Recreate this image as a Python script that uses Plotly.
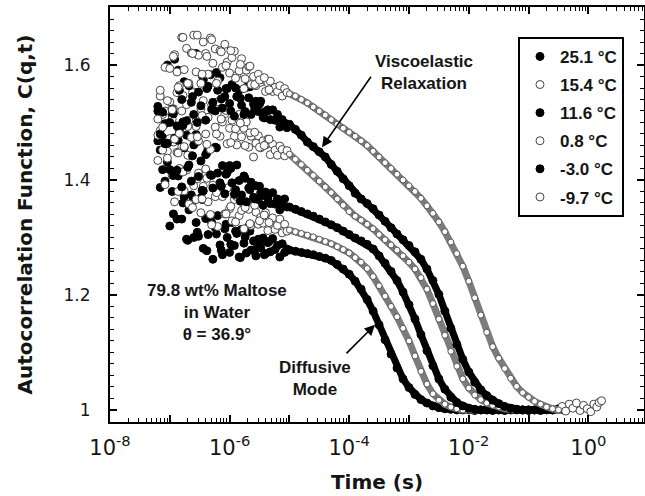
import numpy as np
import plotly.graph_objects as go

# ---------------- data ----------------
LABELS = ["25.1 °C", "15.4 °C", "11.6 °C", "0.8 °C", "-3.0 °C", "-9.7 °C"]

# log10 of lag time (s) for the noisy early-time channels (shared by all runs)
NOISY_LOG_T = [-7.20, -7.16, -7.12, -7.08, -7.04, -7.00, -6.96, -6.92, -6.88, -6.84,
               -6.80, -6.76, -6.72, -6.68, -6.64, -6.60, -6.56, -6.52, -6.48, -6.44,
               -6.40, -6.36, -6.32, -6.28, -6.24, -6.20, -6.16, -6.12, -6.08, -6.04,
               -6.00, -5.96, -5.92, -5.88, -5.84, -5.80, -5.76, -5.72, -5.68, -5.64,
               -5.60, -5.56, -5.52, -5.48, -5.44, -5.40, -5.36, -5.32, -5.28, -5.24,
               -5.20, -5.16, -5.12, -5.08, -5.04,
               -6.94, -6.86, -6.78, -6.70, -6.62, -6.54, -6.46, -6.38, -6.30, -6.22,
               -6.14, -6.06, -5.98, -5.90, -5.82, -5.74, -5.66, -5.58, -5.50, -5.42, -5.34]

NOISY_25_1 = [1.468, 1.387, 1.474, 1.398, 1.431, 1.320, 1.380, 1.410, 1.332, 1.413,
              1.332, 1.371, 1.297, 1.348, 1.374, 1.300, 1.326, 1.302, 1.369, 1.281,
              1.333, 1.305, 1.338, 1.262, 1.317, 1.338, 1.287, 1.270, 1.315, 1.300,
              1.274, 1.326, 1.286, 1.307, 1.266, 1.314, 1.290, 1.273, 1.319, 1.278,
              1.294, 1.268, 1.297, 1.282, 1.299, 1.272, 1.291, 1.275, 1.298, 1.279,
              1.286, 1.266, 1.289, 1.274, 1.280,
              1.341, 1.407, 1.360, 1.295, 1.362, 1.309, 1.366, 1.277, 1.326, 1.306,
              1.278, 1.323, 1.288, 1.311, 1.265, 1.301, 1.311, 1.279, 1.289, 1.270, 1.293]
NOISY_15_4 = [1.434, 1.486, 1.514, 1.392, 1.450, 1.472, 1.408, 1.362, 1.448, 1.420,
              1.458, 1.381, 1.417, 1.358, 1.442, 1.390, 1.366, 1.412, 1.343, 1.389,
              1.419, 1.362, 1.340, 1.391, 1.371, 1.319, 1.387, 1.371, 1.341, 1.386,
              1.350, 1.329, 1.366, 1.371, 1.338, 1.347, 1.315, 1.362, 1.349, 1.321,
              1.365, 1.344, 1.323, 1.335, 1.325, 1.343, 1.312, 1.330, 1.334, 1.314,
              1.321, 1.332, 1.308, 1.323, 1.311,
              1.466, 1.380, 1.414, 1.443, 1.352, 1.402, 1.367, 1.403, 1.322, 1.378,
              1.389, 1.341, 1.354, 1.327, 1.367, 1.352, 1.324, 1.356, 1.329, 1.339, 1.326]
NOISY_11_6 = [1.528, 1.452, 1.418, 1.498, 1.464, 1.418, 1.512, 1.473, 1.417, 1.486,
              1.388, 1.456, 1.478, 1.426, 1.398, 1.461, 1.479, 1.406, 1.433, 1.381,
              1.444, 1.454, 1.409, 1.386, 1.457, 1.412, 1.395, 1.425, 1.376, 1.413,
              1.425, 1.395, 1.375, 1.426, 1.399, 1.374, 1.407, 1.362, 1.386, 1.396,
              1.370, 1.390, 1.366, 1.378, 1.356, 1.379, 1.368, 1.359, 1.378, 1.358,
              1.367, 1.348, 1.361, 1.367, 1.353,
              1.408, 1.469, 1.501, 1.422, 1.442, 1.467, 1.382, 1.447, 1.408, 1.456,
              1.389, 1.410, 1.420, 1.383, 1.363, 1.403, 1.383, 1.367, 1.389, 1.373, 1.360]
NOISY_0_8 = [1.478, 1.546, 1.452, 1.520, 1.438, 1.536, 1.506, 1.471, 1.552, 1.481,
             1.520, 1.458, 1.531, 1.504, 1.474, 1.553, 1.493, 1.468, 1.524, 1.538,
             1.480, 1.509, 1.453, 1.523, 1.492, 1.536, 1.476, 1.501, 1.515, 1.463,
             1.490, 1.504, 1.476, 1.461, 1.514, 1.475, 1.490, 1.501, 1.457, 1.476,
             1.440, 1.464, 1.477, 1.456, 1.468, 1.461, 1.471, 1.444, 1.462, 1.452,
             1.443, 1.459, 1.453, 1.442, 1.451,
             1.524, 1.447, 1.547, 1.493, 1.552, 1.475, 1.512, 1.462, 1.530, 1.480,
             1.506, 1.521, 1.465, 1.489, 1.499, 1.460, 1.482, 1.483, 1.457, 1.460, 1.471]
NOISY_M3_0 = [1.520, 1.480, 1.518, 1.463, 1.600, 1.500, 1.523, 1.610, 1.494, 1.556,
              1.540, 1.571, 1.503, 1.564, 1.535, 1.514, 1.620, 1.553, 1.529, 1.574,
              1.504, 1.563, 1.583, 1.535, 1.520, 1.556, 1.578, 1.525, 1.545, 1.559,
              1.533, 1.566, 1.511, 1.545, 1.556, 1.530, 1.514, 1.561, 1.543, 1.514,
              1.532, 1.537, 1.519, 1.537, 1.509, 1.519, 1.522, 1.505, 1.522, 1.504,
              1.514, 1.492, 1.505, 1.499, 1.491,
              1.515, 1.591, 1.495, 1.568, 1.545, 1.500, 1.582, 1.559, 1.523, 1.587,
              1.541, 1.559, 1.520, 1.560, 1.542, 1.519, 1.562, 1.524, 1.532, 1.508, 1.521]
NOISY_M9_7 = [1.506, 1.556, 1.492, 1.596, 1.538, 1.594, 1.522, 1.618, 1.588, 1.564,
              1.648, 1.592, 1.629, 1.568, 1.621, 1.652, 1.588, 1.617, 1.568, 1.640,
              1.620, 1.584, 1.647, 1.603, 1.628, 1.572, 1.625, 1.596, 1.636, 1.605,
              1.586, 1.613, 1.624, 1.582, 1.590, 1.611, 1.559, 1.591, 1.597, 1.566,
              1.580, 1.564, 1.584, 1.570, 1.575, 1.554, 1.569, 1.572, 1.554, 1.561,
              1.554, 1.564, 1.546, 1.559, 1.552,
              1.615, 1.561, 1.648, 1.568, 1.620, 1.652, 1.584, 1.615, 1.644, 1.568,
              1.623, 1.599, 1.625, 1.577, 1.601, 1.576, 1.598, 1.566, 1.574, 1.578, 1.557]

# log10 of lag time for the well-averaged decay (shared grid)
BAND_LOG_T = [-5.0, -4.9, -4.8, -4.7, -4.6, -4.5, -4.4, -4.3, -4.2, -4.1,
              -4.0, -3.9, -3.8, -3.7, -3.6, -3.5, -3.4, -3.3, -3.2, -3.1,
              -3.0, -2.9, -2.8, -2.7, -2.6, -2.5, -2.4, -2.3, -2.2, -2.1,
              -2.0, -1.9, -1.8, -1.7, -1.6, -1.5, -1.4, -1.3, -1.2, -1.1, -1.0]

BAND_25_1 = [1.278, 1.276, 1.274, 1.272, 1.270, 1.267, 1.264, 1.260, 1.253, 1.245,
             1.236, 1.224, 1.210, 1.192, 1.172, 1.148, 1.122, 1.097, 1.073, 1.054,
             1.039, 1.027, 1.018, 1.012, 1.007, 1.004, 1.002, 1.001, 1.000, 1.000,
             1.000, 0.999, 1.000, 1.000, 1.001, 1.000, 0.999, 1.000, 1.001, 1.000, 1.000]
BAND_15_4 = [1.313, 1.310, 1.307, 1.304, 1.301, 1.297, 1.293, 1.289, 1.284, 1.279,
             1.273, 1.265, 1.257, 1.246, 1.232, 1.216, 1.198, 1.180, 1.162, 1.142,
             1.120, 1.094, 1.067, 1.045, 1.028, 1.017, 1.010, 1.005, 1.002, 1.000,
             1.000, 1.000, 0.999, 1.000, 1.000, 1.001, 1.000, 1.000, 0.999, 1.000, 1.000]
BAND_11_6 = [1.353, 1.349, 1.345, 1.341, 1.337, 1.332, 1.327, 1.322, 1.317, 1.311,
             1.305, 1.299, 1.294, 1.288, 1.280, 1.268, 1.255, 1.241, 1.225, 1.205,
             1.183, 1.158, 1.131, 1.103, 1.077, 1.054, 1.036, 1.022, 1.013, 1.007,
             1.003, 1.001, 1.000, 1.000, 0.999, 1.000, 1.000, 1.001, 1.000, 1.000, 0.999]
BAND_0_8 = [1.445, 1.436, 1.427, 1.417, 1.408, 1.398, 1.388, 1.378, 1.367, 1.356,
            1.345, 1.337, 1.330, 1.323, 1.315, 1.305, 1.296, 1.287, 1.278, 1.268,
            1.257, 1.245, 1.230, 1.210, 1.185, 1.158, 1.130, 1.102, 1.076, 1.054,
            1.038, 1.026, 1.018, 1.012, 1.008, 1.005, 1.002, 1.001, 1.000, 1.000, 1.000]
BAND_M3_0 = [1.497, 1.488, 1.478, 1.466, 1.458, 1.449, 1.440, 1.427, 1.415, 1.402,
             1.390, 1.377, 1.367, 1.359, 1.350, 1.339, 1.328, 1.317, 1.306, 1.296,
             1.286, 1.275, 1.262, 1.245, 1.225, 1.201, 1.172, 1.142, 1.114, 1.088,
             1.066, 1.048, 1.035, 1.025, 1.017, 1.011, 1.006, 1.003, 1.001, 1.000, 1.000]
BAND_M9_7 = [1.550, 1.546, 1.540, 1.534, 1.527, 1.520, 1.513, 1.505, 1.497, 1.490,
             1.483, 1.476, 1.468, 1.460, 1.450, 1.440, 1.430, 1.420, 1.410, 1.400,
             1.390, 1.380, 1.368, 1.355, 1.342, 1.327, 1.310, 1.292, 1.272, 1.250,
             1.224, 1.195, 1.165, 1.135, 1.110, 1.090, 1.072, 1.055, 1.041, 1.030, 1.022]

# longer-time baseline channels, per run
EXTRA_LOG_T_25_1 = []
EXTRA_C_25_1 = []
EXTRA_LOG_T_15_4 = [-0.9, -0.8]
EXTRA_C_15_4 = [1.001, 1.000]
EXTRA_LOG_T_11_6 = [-0.9, -0.8, -0.7, -0.6]
EXTRA_C_11_6 = [1.000, 1.001, 1.000, 1.000]
EXTRA_LOG_T_0_8 = [-0.9, -0.8, -0.7, -0.6, -0.5, -0.4, -0.3]
EXTRA_C_0_8 = [0.999, 1.000, 1.001, 1.000, 1.002, 1.000, 1.003]
EXTRA_LOG_T_M3_0 = [-0.9, -0.8, -0.7, -0.6, -0.5, -0.4]
EXTRA_C_M3_0 = [1.000, 0.999, 1.001, 1.000, 1.002, 1.000]
EXTRA_LOG_T_M9_7 = [-0.9, -0.8, -0.7, -0.6, -0.5]
EXTRA_C_M9_7 = [1.015, 1.010, 1.005, 1.002, 1.000]

# noisy last channels of the slowest run
TAIL_LOG_T_M9_7 = [-0.44, -0.38, -0.32, -0.26, -0.20, -0.14, -0.08, -0.02, 0.04, 0.09, 0.14, 0.18, 0.22]
TAIL_C_M9_7 = [1.006, 0.998, 1.010, 1.003, 1.012, 0.999, 1.008, 1.002, 0.997, 1.010, 1.005, 1.013, 1.016]

RUNS = [
    (LABELS[0], NOISY_25_1, BAND_25_1, EXTRA_LOG_T_25_1, EXTRA_C_25_1, [], [], True),
    (LABELS[1], NOISY_15_4, BAND_15_4, EXTRA_LOG_T_15_4, EXTRA_C_15_4, [], [], False),
    (LABELS[2], NOISY_11_6, BAND_11_6, EXTRA_LOG_T_11_6, EXTRA_C_11_6, [], [], True),
    (LABELS[3], NOISY_0_8, BAND_0_8, EXTRA_LOG_T_0_8, EXTRA_C_0_8, [], [], False),
    (LABELS[4], NOISY_M3_0, BAND_M3_0, EXTRA_LOG_T_M3_0, EXTRA_C_M3_0, [], [], True),
    (LABELS[5], NOISY_M9_7, BAND_M9_7, EXTRA_LOG_T_M9_7, EXTRA_C_M9_7,
     TAIL_LOG_T_M9_7, TAIL_C_M9_7, False),
]

# ---------------- figure ----------------
fig = go.Figure()
for i, (label, noisy, band, ext_t, ext_c, tail_t, tail_c, filled) in enumerate(RUNS):
    if filled:
        mk = dict(symbol="circle", size=8, color="black", line=dict(color="black", width=1))
        band_mk = mk
        band_line = dict(color="black", width=7)
    else:
        mk = dict(symbol="circle", size=8, color="white", line=dict(color="#444444", width=1))
        band_mk = dict(symbol="circle", size=6, color="white", line=dict(color="#555555", width=1))
        band_line = dict(color="#7c7c7c", width=7)
    scat_t = list(NOISY_LOG_T) + list(tail_t)
    scat_c = list(noisy) + list(tail_c)
    fig.add_trace(go.Scatter(
        x=np.power(10.0, scat_t), y=scat_c, mode="markers", marker=mk,
        name="<b>" + label + "</b>", legendgroup="g%d" % i, showlegend=True,
        hoverinfo="skip"))
    bt = list(BAND_LOG_T) + list(ext_t)
    bc = list(band) + list(ext_c)
    fig.add_trace(go.Scatter(
        x=np.power(10.0, bt), y=bc, mode="lines+markers", marker=band_mk, line=band_line,
        name=label, legendgroup="g%d" % i, showlegend=False, hoverinfo="skip"))

TXT = "#151515"
tick_exps = list(range(-8, 1))
tick_text = [("10<sup>%d</sup>" % k) if k % 2 == 0 else "" for k in tick_exps]

fig.update_xaxes(
    type="log", range=[-8, 0.93],
    tickmode="array", tickvals=[10.0 ** k for k in tick_exps], ticktext=tick_text,
    ticks="inside", ticklen=7, tickwidth=1.5, tickcolor="black",
    minor=dict(ticks="inside", ticklen=4, tickwidth=1, tickcolor="black", dtick="D1", showgrid=False),
    showline=True, linewidth=2, linecolor="black", mirror="ticks",
    showgrid=False, zeroline=False,
    tickfont=dict(family="DejaVu Sans", size=21, color=TXT),
    ticklabelstandoff=6,
    title=dict(text="<b>Time (s)</b>", font=dict(family="DejaVu Sans", size=20, color=TXT), standoff=16),
    automargin=False,
)
fig.update_yaxes(
    range=[0.979, 1.7009],
    tickmode="array", tickvals=[1.0, 1.2, 1.4, 1.6], ticktext=["1", "1.2", "1.4", "1.6"],
    ticks="inside", ticklen=7, tickwidth=1.5, tickcolor="black",
    minor=dict(ticks="inside", ticklen=4, tickwidth=1, tickcolor="black", tick0=1.0, dtick=0.02, showgrid=False),
    showline=True, linewidth=2, linecolor="black", mirror="ticks",
    showgrid=False, zeroline=False,
    tickfont=dict(family="DejaVu Sans", size=17, color=TXT),
    ticklabelstandoff=14,
    title=dict(text="<b>Autocorrelation Function, C(q,t)</b>",
               font=dict(family="DejaVu Sans", size=20, color=TXT), standoff=26),
    automargin=False,
)

ann_font = dict(family="Liberation Sans", size=17, color=TXT)
fig.update_layout(
    width=645, height=496,
    margin=dict(l=110, r=1, t=7, b=74),
    plot_bgcolor="white", paper_bgcolor="white",
    legend=dict(x=0.764, y=0.928, xanchor="left", yanchor="top",
                bordercolor="black", borderwidth=2, bgcolor="white",
                font=dict(family="Liberation Sans", size=17, color=TXT),
                traceorder="grouped", tracegroupgap=3, itemwidth=30),
    annotations=[
        dict(text="<b>Viscoelastic<br>Relaxation</b>", xref="paper", yref="paper",
             x=0.588, y=0.843, xanchor="center", yanchor="middle",
             showarrow=False, font=ann_font, align="center"),
        dict(text="<b>79.8 wt% Maltose<br>in Water<br>θ = 36.9°</b>", xref="paper", yref="paper",
             x=0.200, y=0.263, xanchor="center", yanchor="middle",
             showarrow=False, font=ann_font, align="center"),
        dict(text="<b>Diffusive<br>Mode</b>", xref="paper", yref="paper",
             x=0.384, y=0.106, xanchor="center", yanchor="middle",
             showarrow=False, font=ann_font, align="center"),
        dict(text="", x=-4.455, y=1.457, xref="x", yref="y", ax=50, ay=-72,
             showarrow=True, arrowhead=2, arrowsize=1.3, arrowwidth=1.6, arrowcolor="black"),
        dict(text="", x=-3.569, y=1.148, xref="x", yref="y", ax=-30, ay=30,
             showarrow=True, arrowhead=2, arrowsize=1.3, arrowwidth=1.6, arrowcolor="black"),
    ],
)

fig.write_html("out.html")
